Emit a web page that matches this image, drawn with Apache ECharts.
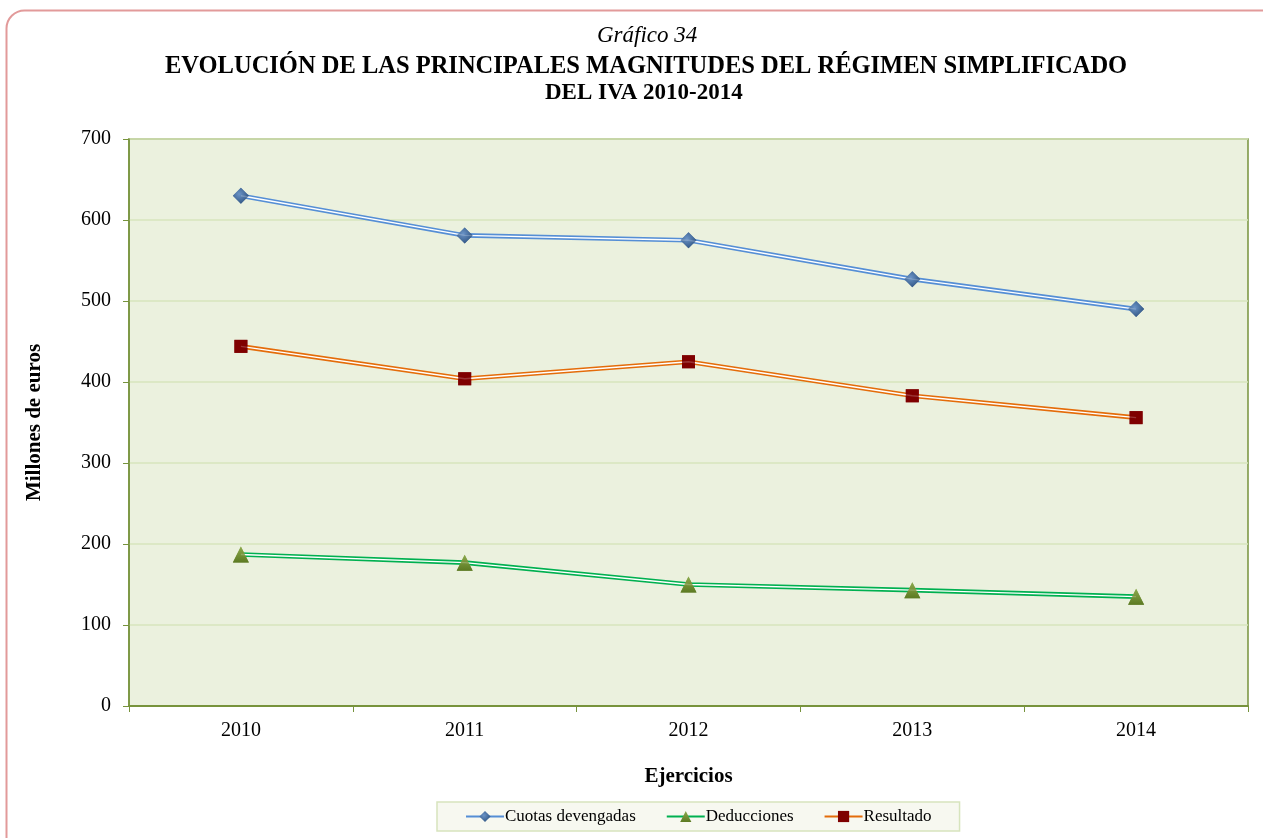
<!DOCTYPE html>
<html>
<head>
<meta charset="utf-8">
<script src="https://cdn.jsdelivr.net/npm/echarts@6/dist/echarts.min.js"></script>
<style>
html,body{margin:0;padding:0;background:#fff;}
#c{width:1263px;height:838px;}
</style>
</head>
<body>
<div id="c"></div>
<script>
const categories = ['2010', '2011', '2012', '2013', '2014'];
const cuotas = [630, 581, 575, 527, 490];
const deducciones = [187, 177, 150, 143, 135];
const resultado = [444, 404, 425, 383, 356];
const yTicks = [0, 100, 200, 300, 400, 500, 600, 700];

const seriesDefs = [
  { name: 'Cuotas devengadas', data: cuotas, line: '#558ED5', symbol: 'diamond', size: 16,
    fill: new echarts.graphic.RadialGradient(0.4, 0.4, 0.7, [{offset:0,color:'#6A93C6'},{offset:1,color:'#2B4F7D'}]) },
  { name: 'Deducciones', data: deducciones, line: '#00B050', symbol: 'triangle', size: 16,
    fill: new echarts.graphic.LinearGradient(0, 0, 0, 1, [{offset:0,color:'#8DAA4E'},{offset:1,color:'#5C7A22'}]) },
  { name: 'Resultado', data: resultado, line: '#E46C0A', symbol: 'rect', size: 13, fill: '#7F0000' }
];

const series = [];
seriesDefs.forEach(function (d) {
  series.push({
    name: d.name, type: 'line', data: d.data, z: 2,
    symbol: d.symbol, symbolSize: d.size, showSymbol: true,
    lineStyle: { color: d.line, width: 4.6 },
    itemStyle: { color: d.fill, borderWidth: 0 },
    emphasis: { disabled: true }, animation: false
  });
  series.push({
    name: d.name + ' _in', type: 'line', data: d.data, z: 3,
    symbol: 'none', lineStyle: { color: '#FFFFFF', width: 1.4 },
    emphasis: { disabled: true }, animation: false, silent: true
  });
  series.push({
    name: d.name + ' _mk', type: 'scatter', data: d.data, z: 4,
    symbol: d.symbol, symbolSize: d.size,
    itemStyle: { color: d.fill, borderWidth: 0 },
    emphasis: { disabled: true }, animation: false, silent: true
  });
});

const serif = 'Liberation Serif';
const chart = echarts.init(document.getElementById('c'), null, { renderer: 'canvas' });
chart.setOption({
  animation: false,
  backgroundColor: '#FFFFFF',
  graphic: [{
    type: 'rect', z: -10,
    shape: { x: 6.5, y: 10.5, width: 1320, height: 900, r: 18 },
    style: { fill: '#FFFFFF', stroke: '#E29A9A', lineWidth: 2 }
  }],
  title: [
    { text: 'Gráfico 34', left: 597, top: 24, padding: 0,
      textStyle: { fontFamily: serif, fontStyle: 'italic', fontWeight: 'normal', fontSize: 23, color: '#000' } },
    { text: 'EVOLUCIÓN DE LAS PRINCIPALES MAGNITUDES DEL RÉGIMEN SIMPLIFICADO', left: 165, top: 54, padding: 0,
      textStyle: { fontFamily: serif, fontWeight: 'bold', fontSize: 24.5, color: '#000' } },
    { text: 'DEL IVA 2010-2014', left: 545, top: 82, padding: 0,
      textStyle: { fontFamily: serif, fontWeight: 'bold', fontSize: 23, color: '#000' } }
  ],
  grid: { left: 129, right: 15, top: 139, bottom: 132, show: true, backgroundColor: '#EBF1DE',
          borderColor: '#77933C', borderWidth: 1.5 },
  legend: {
    data: seriesDefs.map(function (d) { return d.name; }),
    top: 802, left: 437, itemGap: 30, itemWidth: 38, itemHeight: 14,
    padding: [6, 28, 6, 28],
    backgroundColor: '#F7F8F0', borderColor: '#D7E4BD', borderWidth: 1.5,
    textStyle: { fontFamily: serif, fontSize: 17, color: '#000', padding: [0, 0, 0, -4] }
  },
  xAxis: {
    type: 'category', data: categories, boundaryGap: true,
    name: 'Ejercicios', nameLocation: 'middle', nameGap: 60,
    nameTextStyle: { fontFamily: serif, fontWeight: 'bold', fontSize: 21, color: '#000' },
    axisLine: { lineStyle: { color: '#77933C', width: 2 } },
    axisTick: { show: true, length: 6, lineStyle: { color: '#77933C' } },
    axisLabel: { fontFamily: serif, fontSize: 20, color: '#000', margin: 15 },
    splitLine: { show: false }
  },
  yAxis: {
    type: 'value', min: 0, max: 700, interval: 100,
    name: 'Millones de euros', nameLocation: 'middle', nameGap: 84, nameRotate: 90,
    nameTextStyle: { fontFamily: serif, fontWeight: 'bold', fontSize: 21, color: '#000' },
    axisLine: { show: true, lineStyle: { color: '#77933C', width: 1.5 } },
    axisTick: { show: true, length: 6, lineStyle: { color: '#77933C' } },
    axisLabel: { fontFamily: serif, fontSize: 20, color: '#000', margin: 18,
      formatter: function (v) { return yTicks.indexOf(v) >= 0 ? String(v) : ''; } },
    splitLine: { show: true, lineStyle: { color: '#D7E4BD', width: 1.5 } }
  },
  series: series
});
</script>
</body>
</html>
